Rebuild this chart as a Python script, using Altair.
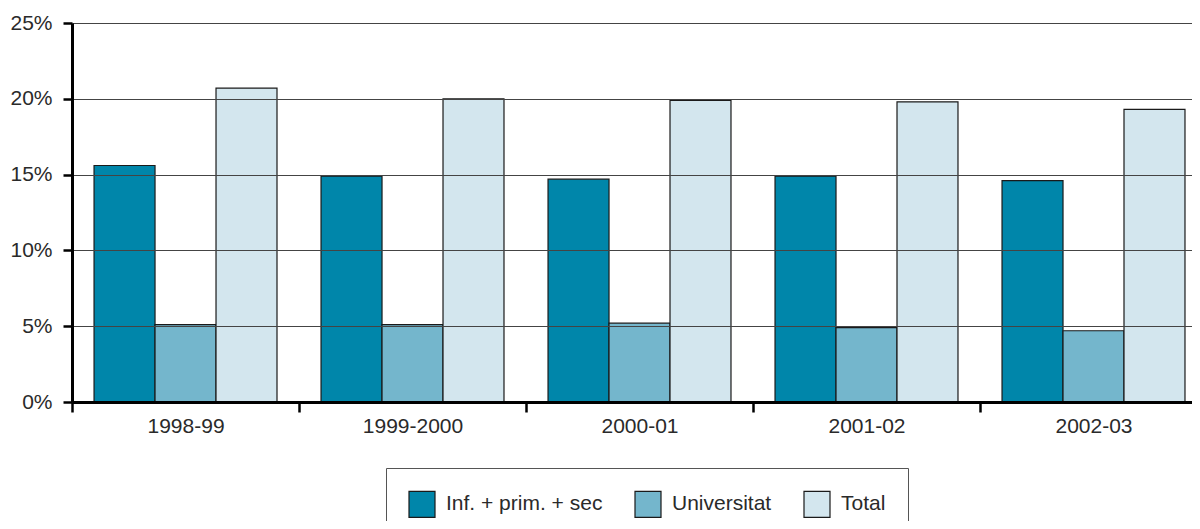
import altair as alt
import pandas as pd

years = ["1998-99", "1999-2000", "2000-01", "2001-02", "2002-03"]
series = ["Inf. + prim. + sec", "Universitat", "Total"]
inf_vals = [15.6, 14.9, 14.7, 14.9, 14.6]
univ_vals = [5.1, 5.1, 5.2, 4.9, 4.7]
total_vals = [20.7, 20.0, 19.9, 19.8, 19.3]
colors = ["#0086AA", "#74B6CC", "#D3E6EE"]
y_ticks = [0, 5, 10, 15, 20, 25]

rows = []
for i, yr in enumerate(years):
    for s, vals in zip(series, [inf_vals, univ_vals, total_vals]):
        rows.append({"year": yr, "series": s, "value": vals[i]})
df = pd.DataFrame(rows)

FONT = "Liberation Sans"
TXT = "#2a2a2a"

chart = alt.Chart(df).mark_bar(stroke="#1a1a1a", strokeWidth=1.2).encode(
    x=alt.X(
        "year:N", sort=years, title=None,
        scale=alt.Scale(paddingInner=0.194, paddingOuter=0.064, align=0.7586),
        axis=alt.Axis(
            labelAngle=0, tickOffset=-113.5, labelOffset=113.5, grid=False,
            domainColor="black", domainWidth=3, tickColor="black", tickWidth=2.5,
            tickSize=10, labelPadding=3, labelFont=FONT, labelFontSize=21,
            labelColor=TXT, zindex=1,
        ),
    ),
    xOffset=alt.XOffset("series:N", sort=series),
    y=alt.Y(
        "value:Q", title=None,
        scale=alt.Scale(domain=[0, 25]),
        axis=alt.Axis(
            values=y_ticks, labelExpr="datum.value + '%'", grid=True,
            gridColor="#444", gridWidth=1, domainColor="black", domainWidth=3,
            tickColor="black", tickWidth=2.5, tickSize=9, labelPadding=11,
            labelFont=FONT, labelFontSize=21, labelColor=TXT, zindex=1,
        ),
    ),
    color=alt.Color(
        "series:N", sort=series,
        scale=alt.Scale(domain=series, range=colors),
        legend=alt.Legend(
            title=None, orient="none", legendX=314, legendY=445,
            direction="horizontal", strokeColor="#555", fillColor="white",
            padding=22, symbolType="square", symbolSize=676,
            symbolStrokeColor="#1a1a1a", symbolStrokeWidth=1.2, symbolOpacity=1,
            labelFont=FONT, labelFontSize=21, labelColor=TXT, labelOffset=10,
            columnPadding=29, labelLimit=300,
        ),
    ),
).properties(
    width=1120, height=379,
    padding={"left": 64, "top": 15, "right": 0, "bottom": 119},
    autosize="none",
).configure_view(stroke=None).configure(background="white")

chart.save("out.html", embed_options={"renderer": "svg", "actions": False})
